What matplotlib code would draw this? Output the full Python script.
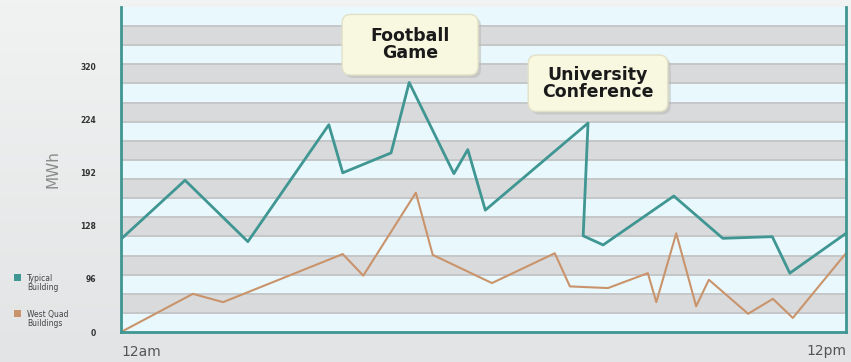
import numpy as np
import matplotlib.pyplot as plt
from matplotlib.patches import FancyBboxPatch
from matplotlib.colors import LinearSegmentedColormap

# hours from 12am, values in axis units (ticks evenly spaced)
typical_x = [0, 1.06, 2.10, 3.44, 3.67, 4.47, 4.77, 5.51, 5.74, 6.03, 7.73, 7.65, 7.98, 9.15, 9.96, 10.78, 11.07, 12]
typical_y = [112, 183, 109, 250, 192, 216, 301, 191, 220, 147, 252, 116, 105, 164, 113, 115, 71, 119]

westquad_x = [0, 1.19, 1.69, 3.67, 4.01, 4.88, 5.16, 6.14, 7.18, 7.43, 8.06, 8.72, 8.86, 9.19, 9.52, 9.73, 10.38, 10.79, 11.12, 12]
westquad_y = [0, 46, 36, 94, 68, 168, 93, 59, 95, 55, 53, 71, 36, 119, 31, 63, 22, 40, 17, 95]

tick_pos = [0, 64, 128, 192, 256, 320]
tick_labels = ["0", "96", "128", "192", "224", "320"]

teal = "#3f9692"
tan = "#c9946c"

fig = plt.figure(figsize=(8.51, 3.62), dpi=100)
fig.patch.set_facecolor("#e6e8e9")

# soft background gradient
bg = fig.add_axes([0, 0, 1, 1], zorder=-10)
grad = np.linspace(0, 1, 100).reshape(-1, 1)
bg.imshow(grad, aspect="auto", cmap=LinearSegmentedColormap.from_list("g", ["#f1f2f2", "#e2e4e5"]),
          extent=[0, 1, 0, 1])
bg.axis("off")

ax = fig.add_axes([121 / 851, 30 / 362, 725 / 851, 325 / 362])
ymax = 392
nbands = 17
band = ymax / nbands
for i in range(nbands):
    y0 = i * band
    c = "#e9f8fc" if i % 2 == 0 else "#d9dadb"
    ax.axhspan(y0, y0 + band, color=c, lw=0, zorder=0)
    if i > 0:
        ax.axhline(y0, color="#c4c6c7", lw=1.4, zorder=1)

ax.plot(typical_x, typical_y, color=teal, lw=2, zorder=3)
ax.plot(westquad_x, westquad_y, color=tan, lw=1.5, zorder=2)

ax.set_xlim(0, 12)
ax.set_ylim(0, ymax)
ax.set_yticks(tick_pos)
ax.set_yticklabels(tick_labels, fontsize=5.5, fontweight="bold", color="#333333")
ax.set_xticks([0, 12])
ax.set_xticklabels(["12am", "12pm"], fontsize=10, color="#555555")
ax.get_xticklabels()[0].set_ha("left")
ax.get_xticklabels()[1].set_ha("right")
ax.tick_params(length=0, pad=9)
ax.tick_params(axis="y", pad=18)
for s in ["left", "bottom", "right"]:
    ax.spines[s].set_color(teal)
    ax.spines[s].set_linewidth(2)
ax.spines["top"].set_visible(False)
ax.set_ylabel("MWh", fontsize=11, color="#8a8a8a", labelpad=14)

# x units per pixel vs y units per pixel, for round corners
aspect = (ymax / 325) / (12 / 725)

def note(x0, x1, y0, y1, txt):
    dx, dy = 3 * 12 / 725, 3 * ymax / 325
    shadow = FancyBboxPatch((x0 + dx, y0 - dy), x1 - x0, y1 - y0,
                            boxstyle="round,pad=0,rounding_size=0.14", mutation_aspect=aspect,
                            fc="#b9bab4", ec="none", alpha=0.55, zorder=4)
    box = FancyBboxPatch((x0, y0), x1 - x0, y1 - y0,
                         boxstyle="round,pad=0,rounding_size=0.14", mutation_aspect=aspect,
                         fc="#f8f7e0", ec="#e2e1c8", lw=1, zorder=5)
    ax.add_patch(shadow)
    ax.add_patch(box)
    ax.text((x0 + x1) / 2, (y0 + y1) / 2, txt, ha="center", va="center", fontsize=12.5,
            fontweight="bold", color="#1a1a1a", linespacing=0.95, zorder=6)

note(3.66, 5.91, 310, 383, "Football\nGame")
note(6.74, 9.05, 266, 334, "University\nConference")

# legend on the left
fig.patches.append(plt.Rectangle((14 / 851, 1 - 281 / 362), 7 / 851, 7 / 362,
                                 transform=fig.transFigure, fc=teal, ec="none"))
fig.patches.append(plt.Rectangle((14 / 851, 1 - 317 / 362), 7 / 851, 7 / 362,
                                 transform=fig.transFigure, fc=tan, ec="none"))
fig.text(27 / 851, 1 - 283 / 362, "Typical\nBuilding", fontsize=5.5, color="#444444",
         va="center", ha="left", linespacing=1.1)
fig.text(27 / 851, 1 - 319 / 362, "West Quad\nBuildings", fontsize=5.5, color="#444444",
         va="center", ha="left", linespacing=1.1)

plt.savefig("out.png", dpi=100, facecolor=fig.get_facecolor())
